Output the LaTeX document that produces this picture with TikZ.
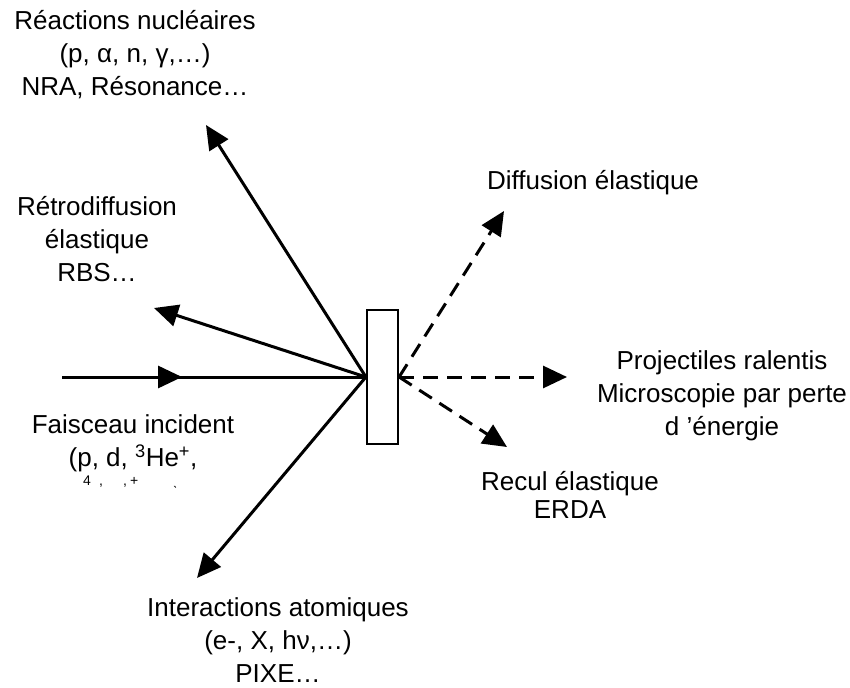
\documentclass[tikz,border=0pt]{standalone}
\usepackage{fontspec}
\setmainfont{Liberation Sans}
\usetikzlibrary{arrows.meta,decorations.markings}
\begin{document}
\begin{tikzpicture}[x=1pt,y=-1pt,
  lbl/.style={align=center,inner sep=0pt,font=\fontsize{26}{33}\selectfont},
  ray/.style={line width=3pt,-{Triangle[length=24pt,width=22pt]}},
  dray/.style={ray,dash pattern=on 15pt off 9pt},
  target/.style={draw,line width=2.2pt,minimum width=31pt,minimum height=134pt,inner sep=0pt}]
\useasboundingbox[fill=white] (0,0) rectangle (850,687);
% target
\node[target] (tg) at (382.5,377) {};
\coordinate (hitL) at (tg.west);
\coordinate (hitR) at (tg.east);
% ends
\coordinate (src) at (62,377);
\coordinate (tNRA) at (206,125);
\coordinate (tRBS) at (154,308);
\coordinate (tPIXE) at (197,578);
\coordinate (tDif) at (504,211);
\coordinate (tProj) at (567,377);
\coordinate (tRec) at (507,447);
% incident beam with mid arrow
\draw[line width=3pt,postaction={decorate},
  decoration={markings,mark=at position 0.395 with {\arrow{Triangle[length=24pt,width=22pt]}}}]
  (src) -- (hitL);
% solid rays
\draw[ray] (hitL) -- (tNRA);
\draw[ray] (hitL) -- (tRBS);
\draw[ray] (hitL) -- (tPIXE);
% dashed rays
\draw[dray] (hitR) -- (tDif);
\draw[dray] (hitR) -- (tProj);
\draw[dray] (hitR) -- (tRec);
% labels
\node[lbl] (nra) at (135,55) {Réactions nucléaires\\(p, α, n, γ,…)\\NRA, Résonance…};
\node[lbl] (rbs) at (97,239) {Rétrodiffusion\\élastique\\RBS…};
\node[lbl] (fai) at (133,443) {Faisceau incident\\(p, d, \textsuperscript{3}He\textsuperscript{+},};
\node[inner sep=0pt,font=\fontsize{14}{14}\selectfont,anchor=west] (frag) at (83,482) {\makebox[0pt][l]{4}\hspace{16pt}\makebox[0pt][l]{,}\hspace{24pt}\makebox[0pt][l]{,}\hspace{7pt}\makebox[0pt][l]{+}\hspace{43pt}\makebox[0pt][l]{\char"02CE}};
\node[lbl] (pixe) at (278,640) {Interactions atomiques\\(e-, X, hν,…)\\PIXE…};
\node[lbl] (dif) at (593,183) {Diffusion élastique};
\node[lbl] (proj) at (722,396) {Projectiles ralentis\\Microscopie par perte\\d ’énergie};
\node[lbl,font=\fontsize{26}{28}\selectfont] (rec) at (570,495) {Recul élastique\\ERDA};
\end{tikzpicture}
\end{document}
